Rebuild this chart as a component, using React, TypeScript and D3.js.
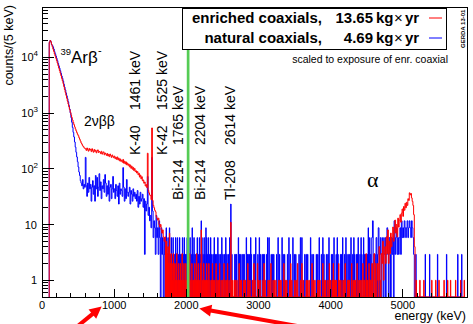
import React from 'react';
import * as d3 from 'd3';

const W = 473;
const H = 324;
const margin = { left: 42, right: 467, top: 7, bottom: 297 };

// exposures (kg x yr)
const seriesNames = ['enriched coaxials,', 'natural coaxials,'];
const exposures = [13.65, 4.69];
const seriesColors = ['#ff0000', '#0000ff'];

// counts/(5 keV) in 10 keV steps from 100 keV (enriched)
const lowStart = 100;
const lowStep = 10;
const enrLow = [
  18500, 20000, 19000, 17000, 15500, 14000, 12800, 11500, 10500, 9600,
  8700, 7900, 7100, 6400, 5800, 5200, 4700, 4200, 3800, 3400,
  3000, 2650, 2350, 2080, 1850, 1640, 1450, 1290, 1150, 1030,
  920, 830, 750, 680, 620, 565, 520, 480, 445, 415,
  392, 361, 337, 314, 290, 276, 259, 251, 238, 233,
  228, 214, 236, 219, 207, 231, 216, 224, 203, 229,
  211, 198, 222, 205, 215, 193, 209, 218, 196, 204,
  199, 187, 206, 183, 195, 201, 178, 192, 185, 174,
  188, 170, 181, 165, 184, 172, 160, 177, 166, 158,
  169, 152, 161, 148, 163, 145, 155, 139, 150, 136,
  143, 131, 147, 126, 137, 122, 133, 118, 127, 115,
  121, 108, 117, 102, 111, 98, 106, 93, 101, 89,
  92, 84, 89, 78, 83, 71, 77, 66, 72, 61,
  63, 55, 58, 49, 52, 46, 190, 41, 37, 34,
  33, 28, 540, 27, 22, 20, 18, 17, 14, 13,
  12, 13, 10, 9, 10, 8, 7, 8, 6, 5,
];
// natural coaxials, raw counts (before exposure scaling)
const natLow = [
  6360, 6870, 6530, 5840, 5600, 5290, 4840, 4350, 3970, 3630,
  3290, 2990, 2680, 2420, 2190, 1970, 1780, 1590, 1440, 1290,
  1130, 1000, 890, 785, 700, 620, 545, 470, 405, 345,
  285, 235, 190, 155, 128, 104, 84, 68, 56, 46,
  37, 30, 26, 21, 19, 17, 22, 15, 18, 16,
  55, 17, 11, 19, 13, 24, 15, 18, 9, 16,
  21, 12, 17, 9, 26, 15, 24, 11, 16, 28,
  14, 20, 10, 17, 15, 22, 13, 27, 19, 11,
  17, 12, 21, 9, 16, 18, 10, 15, 25, 13,
  15, 10, 18, 14, 11, 17, 8, 19, 12, 15,
  14, 11, 36, 16, 9, 15, 10, 22, 13, 11,
  13, 16, 8, 14, 12, 9, 15, 11, 13, 10,
  12, 9, 14, 7, 11, 8, 13, 9, 10, 12,
  7, 10, 1, 9, 6, 8, 25, 5, 7, 4,
  5, 3, 55, 6, 2, 4, 3, 1, 5, 2,
  3, 1, 4, 2, 0, 3, 1, 2, 0, 1,
];

// alpha region, 10 keV steps from 4550 keV
const alphaStart = 4550;
const alphaStep = 10;
const enrAlpha = [
  1, 0, 2, 0, 1, 3, 0, 2, 0, 1,
  2, 0, 4, 1, 0, 3, 2, 5, 1, 3,
  4, 2, 6, 3, 8, 2, 5, 3, 7, 4,
  6, 9, 5, 8, 12, 7, 10, 6, 13, 9,
  12, 15, 11, 16, 19, 14, 21, 18, 24, 20,
  25, 22, 29, 27, 37, 34, 36, 30, 26, 22,
  15, 4,
];
const natAlpha = [
  1, 0, 2, 4, 0, 1, 1, 0, 2, 0,
  1, 3, 0, 1, 2, 0, 1, 2, 0, 1,
  2, 0, 1, 3, 1, 0, 2, 1, 0, 2,
  1, 2, 0, 4, 1, 2, 3, 1, 2, 1,
  2, 3, 1, 4, 2, 3, 2, 4, 3, 2,
  3, 4, 2, 3, 4, 3, 2, 4, 3, 2,
  1, 0,
];

// sparse 5 keV bins: [bin start keV, counts]
const enrSparse: [number, number][] = [
  [1700, 5], [1705, 6], [1715, 4], [1725, 5], [1735, 3], [1745, 4], [1755, 2], [1765, 7], [1770, 3], [1780, 2],
  [1790, 3], [1800, 2], [1810, 1], [1820, 3], [1830, 2], [1845, 1], [1855, 2], [1865, 3], [1880, 1], [1890, 2],
  [1905, 1], [1915, 2], [1930, 1], [1940, 3], [1955, 1], [1965, 2], [1980, 1], [1990, 2],
  [2005, 1], [2015, 2], [2030, 1], [2045, 3], [2060, 1], [2075, 2], [2090, 1], [2100, 1], [2115, 2], [2125, 1],
  [2140, 3], [2150, 1], [2165, 2], [2180, 1], [2195, 2], [2205, 8], [2210, 3], [2225, 1], [2240, 2], [2250, 1],
  [2265, 1], [2280, 2], [2295, 1],
  [2310, 2], [2325, 1], [2345, 1], [2360, 2], [2375, 1], [2390, 1], [2410, 2], [2425, 1], [2445, 1], [2460, 2],
  [2480, 1], [2500, 1], [2520, 2], [2535, 1], [2555, 1], [2570, 2], [2590, 1], [2615, 11], [2625, 1], [2640, 1],
  [2665, 1], [2680, 1], [2700, 1], [2730, 2], [2745, 1], [2760, 1], [2790, 1], [2805, 1], [2820, 1], [2850, 2],
  [2865, 1], [2880, 1], [2915, 1], [2935, 2], [2950, 1], [2985, 2], [3000, 1], [3020, 1], [3060, 1], [3075, 2],
  [3090, 1], [3130, 1], [3150, 1], [3170, 2], [3200, 1], [3220, 1], [3240, 1], [3280, 1], [3295, 1], [3310, 1],
  [3350, 2], [3370, 1], [3390, 1], [3430, 1], [3445, 2], [3460, 1], [3500, 1], [3520, 1], [3540, 2], [3580, 1],
  [3600, 2], [3620, 1], [3660, 1], [3680, 1], [3700, 1], [3740, 2], [3760, 1], [3780, 1], [3820, 1], [3835, 1],
  [3850, 1], [3890, 2], [3910, 1], [3930, 1], [3960, 1], [3980, 2], [3995, 1],
  [4020, 1], [4035, 2], [4050, 1], [4065, 1], [4080, 1], [4110, 2], [4125, 1], [4140, 1], [4170, 1], [4185, 1],
  [4200, 2], [4230, 1], [4245, 1], [4260, 1], [4290, 2], [4310, 1], [4325, 1], [4340, 1], [4365, 2], [4390, 1],
  [4405, 1], [4420, 1], [4445, 2], [4460, 1], [4470, 1], [4490, 3], [4500, 1], [4510, 1], [4530, 2], [4540, 1],
  [5185, 1], [5235, 1], [5290, 1], [5400, 1], [5455, 1], [5500, 1], [5570, 1], [5620, 1], [5660, 1], [5730, 1],
  [5800, 1], [5850, 1],
];
const natSparse: [number, number][] = [
  [1700, 2], [1710, 1], [1720, 3], [1730, 1], [1745, 2], [1755, 1], [1765, 3], [1775, 1], [1790, 2], [1800, 1],
  [1815, 2], [1825, 1], [1840, 1], [1850, 2], [1865, 1], [1875, 2], [1890, 1], [1905, 2], [1915, 1], [1930, 1],
  [1945, 2], [1955, 1], [1970, 2], [1985, 1], [1995, 1],
  [2010, 2], [2020, 1], [2035, 1], [2050, 2], [2065, 1], [2080, 3], [2090, 1], [2105, 2], [2120, 1], [2135, 1],
  [2150, 2], [2165, 1], [2180, 2], [2190, 1], [2205, 4], [2215, 2], [2230, 1], [2245, 2], [2255, 1], [2270, 3],
  [2280, 2], [2290, 1],
  [2305, 2], [2320, 1], [2335, 2], [2350, 1], [2370, 1], [2385, 2], [2400, 1], [2420, 1], [2435, 2], [2450, 1],
  [2470, 1], [2490, 2], [2505, 1], [2525, 1], [2545, 2], [2560, 1], [2580, 1], [2600, 2], [2615, 8], [2630, 1],
  [2670, 1], [2685, 1], [2695, 1], [2720, 2], [2735, 1], [2745, 1], [2770, 1], [2785, 1], [2800, 1], [2830, 2],
  [2845, 1], [2855, 1], [2875, 1], [2890, 2], [2900, 1], [2935, 1], [2950, 1], [2960, 2], [2990, 1], [3010, 2],
  [3025, 1], [3050, 1], [3065, 1], [3080, 1], [3110, 1], [3125, 2], [3145, 2], [3175, 1], [3195, 1], [3210, 1],
  [3250, 1], [3270, 2], [3290, 1], [3325, 2], [3340, 1], [3360, 1], [3400, 1], [3420, 2], [3440, 1], [3475, 2],
  [3495, 1], [3515, 1], [3560, 1], [3580, 2], [3600, 2], [3640, 1], [3660, 1], [3680, 1], [3720, 2], [3740, 1],
  [3760, 1], [3800, 1], [3820, 1], [3840, 2], [3870, 1], [3890, 2], [3905, 1], [3940, 1], [3960, 1], [3975, 2],
  [4010, 1], [4025, 1], [4045, 2], [4075, 1], [4090, 2], [4100, 1], [4135, 1], [4150, 1], [4165, 2], [4190, 1],
  [4210, 2], [4225, 1], [4250, 1], [4265, 1], [4280, 2], [4305, 1], [4320, 2], [4330, 1], [4355, 1], [4370, 1],
  [4380, 2], [4405, 1], [4420, 2], [4430, 1], [4455, 2], [4470, 1], [4480, 1], [4500, 1], [4510, 1], [4520, 3],
  [4540, 2],
  [5180, 1], [5310, 1], [5370, 1], [5480, 1], [5605, 1], [5760, 1], [5815, 1],
];

const xTickValues = [0, 1000, 2000, 3000, 4000, 5000];
const yDecades = [0, 1, 2, 3, 4];

const lineIsotopes = ['K-40', 'K-42', 'Bi-214', 'Bi-214', 'Tl-208'];
const lineEnergies = ['1461 keV', '1525 keV', '1765 keV', '2204 keV', '2614 keV'];
// label placement (baseline x, bottom of isotope text, bottom of energy text)
const labelPos = [
  { x: 140, y0: 155, y1: 110 },
  { x: 167, y0: 155, y1: 110 },
  { x: 183, y0: 200, y1: 145 },
  { x: 205, y0: 200, y1: 145 },
  { x: 235, y0: 200, y1: 145 },
];

const qbb = 2039;
const sans = 'Liberation Sans, Arial, Helvetica, sans-serif';

type Seg = { e0: number; e1: number; v: number };

function buildSegs(low: number[], alpha: number[], sparse: [number, number][], scale: number): Seg[] {
  const segs: Seg[] = [];
  low.forEach((v, i) => segs.push({ e0: lowStart + i * lowStep, e1: lowStart + (i + 1) * lowStep, v: v * scale }));
  alpha.forEach((v, i) => segs.push({ e0: alphaStart + i * alphaStep, e1: alphaStart + (i + 1) * alphaStep, v: v * scale }));
  sparse.forEach(([e, v]) => segs.push({ e0: e, e1: e + 5, v: v * scale }));
  return segs.sort((a, b) => a.e0 - b.e0);
}

export default function App() {
  const x = d3.scaleLinear().domain([0, 5890]).range([margin.left, margin.right]);
  const y = d3.scaleLog().domain([0.5, 8e4]).range([margin.bottom, margin.top]);
  const yb = margin.bottom;
  const yv = (v: number) => (v > 0 ? y(Math.max(v, 0.5)) : yb);

  const histPath = (segs: Seg[]) => {
    let d = `M${x(segs[0].e0)},${yb}`;
    let prev = segs[0].e0;
    segs.forEach((s) => {
      if (s.e0 > prev + 0.01) d += `V${yb}H${x(s.e0)}`;
      d += `V${yv(s.v)}H${x(s.e1)}`;
      prev = s.e1;
    });
    return d + `V${yb}`;
  };

  const enrPath = histPath(buildSegs(enrLow, enrAlpha, enrSparse, 1));
  const natPath = histPath(buildSegs(natLow, natAlpha, natSparse, exposures[0] / exposures[1]));

  const xMinor = d3.range(0, 5890, 200);
  const yMinor: number[] = [];
  for (let d = -1; d <= 4; d++) {
    for (let k = 2; k <= 9; k++) {
      const v = k * Math.pow(10, d);
      if (v >= 0.5 && v <= 8e4) yMinor.push(v);
    }
  }

  const arrow = (tx: number, ty: number, sx: number, sy: number, key: string) => {
    const len = Math.hypot(tx - sx, ty - sy);
    const ux = (tx - sx) / len;
    const uy = (ty - sy) / len;
    const hl = 12;
    const hw = 6;
    const bx = tx - ux * hl;
    const by = ty - uy * hl;
    return (
      <g key={key}>
        <line x1={sx} y1={sy} x2={bx + ux * 2} y2={by + uy * 2} stroke="#ff0000" strokeWidth={4} />
        <polygon
          points={`${tx},${ty} ${bx - uy * hw},${by + ux * hw} ${bx + uy * hw},${by - ux * hw}`}
          fill="#ff0000"
        />
      </g>
    );
  };

  const qx = x(qbb);

  return (
    <svg
      width={W}
      height={H}
      style={{ position: 'absolute', left: 0, top: 0, background: '#fff' }}
      fontFamily={sans}
    >
      <rect width={W} height={H} fill="#fff" />

      {/* histograms */}
      <path d={natPath} fill="none" stroke={seriesColors[1]} strokeWidth={1} />
      <path d={enrPath} fill="none" stroke={seriesColors[0]} strokeWidth={1} />

      {/* Qbb line */}
      <line x1={qx - 1} x2={qx - 1} y1={margin.top} y2={margin.bottom} stroke="#55cc55" strokeWidth={2.7} />

      {/* frame */}
      <rect
        x={margin.left}
        y={margin.top}
        width={margin.right - margin.left}
        height={margin.bottom - margin.top}
        fill="none"
        stroke="#000"
        strokeWidth={1}
        shapeRendering="crispEdges"
      />

      {/* ticks */}
      <g shapeRendering="crispEdges" stroke="#000">
        {xMinor.map((v) => (
          <line key={'xm' + v} x1={x(v)} x2={x(v)} y1={yb} y2={yb - (v % 1000 === 0 ? 8 : 4)} />
        ))}
        {yMinor.map((v) => (
          <line key={'ym' + v} x1={margin.left} x2={margin.left + 6} y1={y(v)} y2={y(v)} />
        ))}
        {yDecades.map((d) => (
          <line key={'yM' + d} x1={margin.left} x2={margin.left + 12} y1={y(Math.pow(10, d))} y2={y(Math.pow(10, d))} />
        ))}
      </g>
      {xTickValues.map((v) => (
        <text key={'xl' + v} x={x(v)} y={308.5} fontSize={11} textAnchor="middle">
          {v}
        </text>
      ))}
      {yDecades.map((d) => (
        <text key={'yl' + d} x={d < 2 ? 37 : 38} y={y(Math.pow(10, d)) + 4} fontSize={11} textAnchor="end">
          {d === 0 ? '1' : '10'}
          {d >= 2 && (
            <tspan dy={-5} fontSize={8}>
              {d}
            </tspan>
          )}
        </text>
      ))}

      {/* axis titles */}
      <text x={466} y={320} fontSize={12.5} textAnchor="end">
        energy (keV)
      </text>
      <text transform="translate(13,5) rotate(-90)" fontSize={12.5} textAnchor="end">
        counts/(5 keV)
      </text>

      {/* annotations */}
      <text x={60.5} y={55} fontSize={9.5}>39</text>
      <text x={71} y={63} fontSize={17}>Ar</text>
      <text x={88} y={63} fontSize={17}>β</text>
      <text x={98} y={54} fontSize={11}>-</text>
      <text x={84} y={126} fontSize={14}>2νββ</text>
      <text x={367} y={187} fontSize={22} fontFamily="Liberation Serif, Times New Roman, serif">α</text>

      {lineIsotopes.map((iso, i) => (
        <g key={'lbl' + i} fontSize={14}>
          <text transform={`translate(${labelPos[i].x},${labelPos[i].y0}) rotate(-90)`}>{iso}</text>
          <text transform={`translate(${labelPos[i].x},${labelPos[i].y1}) rotate(-90)`}>{lineEnergies[i]}</text>
        </g>
      ))}

      {/* legend */}
      <rect x={182.5} y={8.5} width={264} height={41} fill="#fff" stroke="#000" strokeWidth={1} />
      {seriesNames.map((name, i) => {
        const by = 23 + i * 20;
        return (
          <g key={'leg' + i} fontSize={15} fontWeight="bold">
            <text x={322} y={by} textAnchor="end">{name}</text>
            <text x={373} y={by} textAnchor="end">{exposures[i].toFixed(2)}</text>
            <text x={376} y={by}>kg</text>
            <text x={394} y={by} fontWeight="normal">×</text>
            <text x={405} y={by}>yr</text>
            <line x1={429} x2={442} y1={by - 5} y2={by - 5} stroke={seriesColors[i]} strokeWidth={1} />
          </g>
        );
      })}
      <text transform="translate(465,48) rotate(-90)" fontSize={6} fontWeight="bold">
        GERDA 13-01
      </text>
      <text x={448} y={63} fontSize={10.5} textAnchor="end">
        scaled to exposure of enr. coaxial
      </text>

      {/* arrows */}
      {arrow(x(1000) - 12.5, 306.5, 76, 327.5, 'a1')}
      {arrow(x(2000) + 13, 308.5, 300, 326.5, 'a2')}
    </svg>
  );
}
